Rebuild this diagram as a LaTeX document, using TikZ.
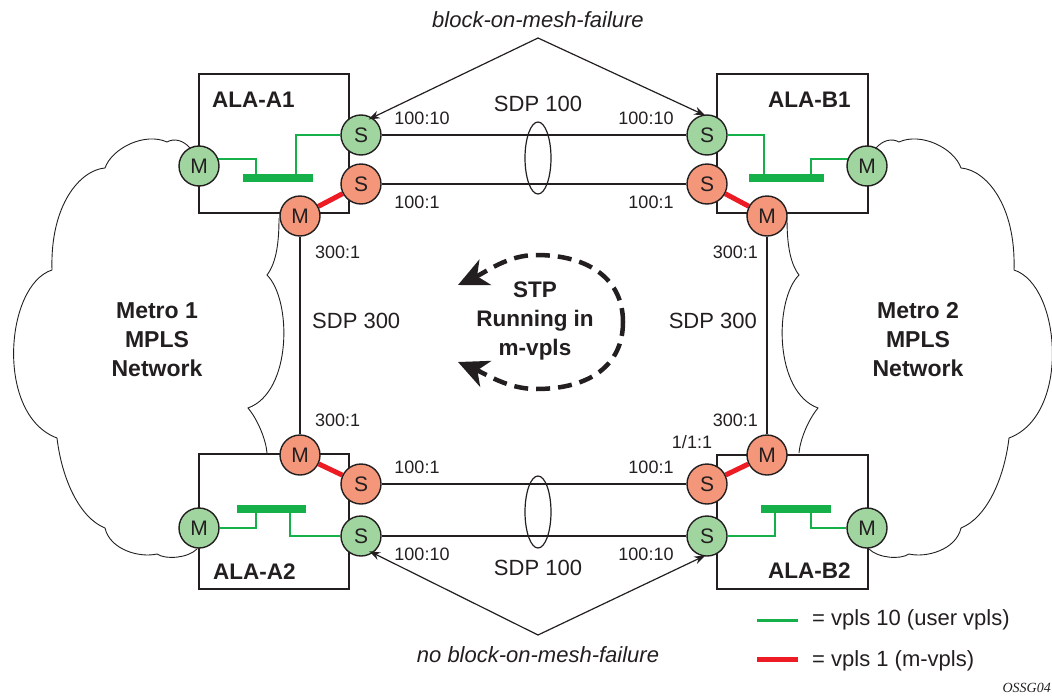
\documentclass[tikz,border=0pt]{standalone}
\usepackage{fontspec}
\setmainfont{Liberation Sans}
\newfontfamily\serifit{Liberation Serif}
\usetikzlibrary{arrows.meta}
\pgfdeclarelayer{bg}
\pgfsetlayers{bg,main}
\definecolor{gfill}{RGB}{160,213,160}
\definecolor{rfill}{RGB}{244,150,122}
\definecolor{gline}{RGB}{22,176,75}
\definecolor{rline}{RGB}{237,28,36}
\definecolor{ink}{RGB}{35,31,32}
\begin{document}
\begin{tikzpicture}[x=1pt,y=-1pt,
  port/.style={circle, draw=ink, line width=1.4pt, minimum size=40pt, inner sep=0pt, text=ink, font=\fontsize{21}{21}\selectfont},
  gport/.style={port, fill=gfill},
  rport/.style={port, fill=rfill},
  alabox/.style={draw=ink, line width=2.8pt, inner sep=0pt},
  sdp/.style={draw=ink, line width=1.3pt},
  cloudline/.style={draw=ink, line width=0.9pt},
  glink/.style={draw=gline, line width=2.4pt},
  gbar/.style={draw=gline, line width=7.5pt},
  rlink/.style={draw=rline, line width=5pt},
  lbl/.style={font=\fontsize{18}{20}\selectfont, inner sep=0pt, text=ink},
  biglbl/.style={font=\fontsize{22}{24}\selectfont, inner sep=0pt, text=ink},
  boldlbl/.style={font=\fontsize{22.5}{29}\selectfont\bfseries, align=center, inner sep=0pt, text=ink},
  callout/.style={draw=ink, line width=1.2pt, -{Stealth[length=11pt,width=8pt]}},
  stp/.style={draw=ink, line width=4.5pt, dash pattern=on 14pt off 8pt, -{Stealth[length=30pt,width=28pt,inset=9pt]}},
]
\useasboundingbox (0,0) rectangle (1052,696);

% ports
\node[gport] (sgA1) at (361,135) {S};
\node[rport] (srA1) at (361,184) {S};
\node[rport] (mrA1) at (300,216) {M};
\node[gport] (mgA1) at (199,166) {M};
\node[gport] (sgB1) at (707,135) {S};
\node[rport] (srB1) at (707,184) {S};
\node[rport] (mrB1) at (767,216) {M};
\node[gport] (mgB1) at (867,166) {M};
\node[rport] (mrA2) at (300,455) {M};
\node[rport] (srA2) at (361,484) {S};
\node[gport] (sgA2) at (361,536) {S};
\node[gport] (mgA2) at (199,528) {M};
\node[rport] (mrB2) at (767,455) {M};
\node[rport] (srB2) at (707,484) {S};
\node[gport] (sgB2) at (707,536) {S};
\node[gport] (mgB2) at (867,528) {M};

% tap points on the bridge bars
\coordinate (tA1m) at (256,178); \coordinate (tA1s) at (296,178);
\coordinate (bA1l) at (243,178); \coordinate (bA1r) at (313,178);
\coordinate (tB1s) at (764,178); \coordinate (tB1m) at (811,178);
\coordinate (bB1l) at (749,178); \coordinate (bB1r) at (824,178);
\coordinate (tA2m) at (256,509); \coordinate (tA2s) at (290,509);
\coordinate (bA2l) at (237,509); \coordinate (bA2r) at (306,509);
\coordinate (tB2s) at (775,509); \coordinate (tB2m) at (811,509);
\coordinate (bB2l) at (761,509); \coordinate (bB2r) at (831,509);

\begin{pgfonlayer}{bg}
  % Metro 1 cloud
  \draw[cloudline] (190,148) .. controls (183,140) and (174,138) .. (167,142)
    .. controls (145,132) and (112,148) .. (105,168)
    .. controls (80,170) and (50,205) .. (52,270)
    .. controls (5,285) and (-5,415) .. (57,438)
    .. controls (62,480) and (80,518) .. (105,528)
    .. controls (110,550) and (140,558) .. (157,554)
    .. controls (166,560) and (188,558) .. (197,549);
  \draw[cloudline] (279,218) .. controls (279,240) and (277,262) .. (267,275)
    .. controls (292,300) and (292,392) .. (248,408)
    .. controls (258,420) and (266,440) .. (267,453);
  % Metro 2 cloud
  \draw[cloudline] (876,148) .. controls (883,140) and (892,138) .. (899,142)
    .. controls (921,132) and (954,148) .. (961,168)
    .. controls (986,170) and (1016,205) .. (1014,270)
    .. controls (1061,285) and (1071,415) .. (1009,438)
    .. controls (1004,480) and (986,518) .. (961,528)
    .. controls (956,550) and (926,558) .. (909,554)
    .. controls (900,560) and (878,558) .. (869,549);
  \draw[cloudline] (787,218) .. controls (787,240) and (789,262) .. (799,275)
    .. controls (774,300) and (774,392) .. (818,408)
    .. controls (808,420) and (800,440) .. (799,453);
  % boxes
  \node[alabox, minimum width=150pt, minimum height=139pt] (boxA1) at (274,143.5) {};
  \node[alabox, minimum width=151pt, minimum height=139pt] (boxB1) at (792.5,143.5) {};
  \node[alabox, minimum width=150pt, minimum height=135pt] (boxA2) at (274,521.5) {};
  \node[alabox, minimum width=151pt, minimum height=134pt] (boxB2) at (792.5,522) {};
  % SDP 100 / SDP 300
  \draw[sdp] (sgA1) -- (sgB1);
  \draw[sdp] (srA1) -- (srB1);
  \draw[sdp] (srA2) -- (srB2);
  \draw[sdp] (sgA2) -- (sgB2);
  \draw[sdp] (mrA1) -- (mrA2);
  \draw[sdp] (mrB1) -- (mrB2);
  \draw[sdp, line width=1.2pt] (538,158) ellipse [x radius=13pt, y radius=36pt];
  \draw[sdp, line width=1.2pt] (538,512) ellipse [x radius=13pt, y radius=36pt];
  % m-vpls links
  \draw[rlink] (mrA1) -- (srA1);
  \draw[rlink] (mrB1) -- (srB1);
  \draw[rlink] (mrA2) -- (srA2);
  \draw[rlink] (mrB2) -- (srB2);
  % user vpls wiring
  \draw[glink] (mgA1.20) -| (tA1m);
  \draw[glink] (sgA1.west) -| (tA1s);
  \draw[gbar] (bA1l) -- (bA1r);
  \draw[glink] (sgB1.east) -| (tB1s);
  \draw[glink] (mgB1.160) -| (tB1m);
  \draw[gbar] (bB1l) -- (bB1r);
  \draw[glink] (mgA2.east) -| (tA2m);
  \draw[glink] (sgA2.west) -| (tA2s);
  \draw[gbar] (bA2l) -- (bA2r);
  \draw[glink] (sgB2.east) -| (tB2s);
  \draw[glink] (mgB2.west) -| (tB2m);
  \draw[gbar] (bB2l) -- (bB2r);
\end{pgfonlayer}

% box titles
\node[boldlbl, anchor=west] (tA1) at (212,100) {ALA-A1};
\node[boldlbl, anchor=west] (tB1) at (768,100) {ALA-B1};
\node[boldlbl, anchor=west] (tA2) at (213,572) {ALA-A2};
\node[boldlbl, anchor=west] (tB2) at (768,571) {ALA-B2};

% cloud titles
\node[boldlbl, font=\fontsize{23}{29}\selectfont\bfseries] (metro1) at (157,340) {Metro 1\\MPLS\\Network};
\node[boldlbl, font=\fontsize{23}{29}\selectfont\bfseries] (metro2) at (918,340) {Metro 2\\MPLS\\Network};

% callouts
\node[biglbl, font=\fontsize{22}{24}\selectfont\itshape] (bomf) at (538,20) {block-on-mesh-failure};
\coordinate (apexT) at (538,38);
\draw[callout, shorten >=-4pt] (apexT) -- (sgA1.57);
\draw[callout, shorten >=-2pt] (apexT) -- (sgB1.100);
\node[biglbl, font=\fontsize{22}{24}\selectfont\itshape] (nbomf) at (538,655) {no block-on-mesh-failure};
\coordinate (apexB) at (538,635);
\draw[callout, shorten >=-4pt] (apexB) -- (sgA2.-55);
\draw[callout, shorten >=-2pt] (apexB) -- (sgB2.-100);

% SDP labels
\node[lbl] (l1) at (422,118) {100:10};
\node[lbl] (l2) at (417,202) {100:1};
\node[biglbl] (l3) at (538,104) {SDP 100};
\node[lbl] (l4) at (646,118) {100:10};
\node[lbl] (l5) at (651,202) {100:1};
\node[lbl] (l6) at (417,467) {100:1};
\node[lbl] (l7) at (651,467) {100:1};
\node[lbl] (l8) at (422,554) {100:10};
\node[lbl] (l9) at (646,554) {100:10};
\node[biglbl] (l10) at (538,568) {SDP 100};
\node[lbl, anchor=west] (l11) at (315,252) {300:1};
\node[biglbl, anchor=west] (l12) at (312,321) {SDP 300};
\node[lbl, anchor=west] (l13) at (315,420) {300:1};
\node[lbl, anchor=east] (l14) at (758,252) {300:1};
\node[biglbl, anchor=east] (l15) at (757,321) {SDP 300};
\node[lbl, anchor=east] (l16) at (758,420) {300:1};
\node[lbl] (l17) at (692,442) {1/1:1};

% STP loop
\node[boldlbl] (stptext) at (535,321) {STP\\Running in\\m-vpls};
\coordinate (stpr) at (623,322);
\coordinate (stpt) at (458,285);
\coordinate (stpb) at (458,362);
\draw[stp] (stpr) .. controls (623,280) and (590,255) .. (536,255)
  .. controls (508,255) and (486,272) .. (stpt);
\draw[stp] (stpr) .. controls (623,365) and (590,389) .. (536,389)
  .. controls (508,389) and (486,374) .. (stpb);

% legend
\coordinate (lg1a) at (757,620); \coordinate (lg1b) at (798,620);
\coordinate (lg2a) at (757,659); \coordinate (lg2b) at (798,659);
\draw[glink, line width=3pt] (lg1a) -- (lg1b);
\draw[rlink] (lg2a) -- (lg2b);
\node[biglbl, anchor=west] (lgt1) at (812,620) {= vpls 10 (user vpls)};
\node[biglbl, anchor=west] (lgt2) at (812,661) {= vpls 1 (m-vpls)};
\node[anchor=east, inner sep=0pt, text=ink, font=\serifit\itshape\fontsize{14}{14}\selectfont] (fig) at (1051,688) {OSSG04};
\end{tikzpicture}
\end{document}
